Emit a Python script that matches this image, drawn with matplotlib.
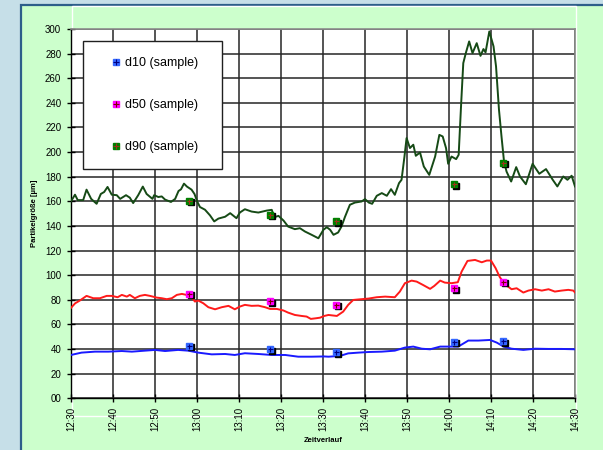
import matplotlib
matplotlib.use('Agg')
import matplotlib.pyplot as plt
import matplotlib.transforms as mtransforms
from matplotlib.patches import Rectangle
from matplotlib.lines import Line2D
from matplotlib.legend_handler import HandlerTuple

plt.rcParams['font.family'] = ['Liberation Sans', 'DejaVu Sans']

# ---------------- data ----------------
x_ticklabels = ["12:30", "12:40", "12:50", "13:00", "13:10", "13:20", "13:30",
                "13:40", "13:50", "14:00", "14:10", "14:20", "14:30"]
y_ticks = list(range(0, 301, 20))

# minutes after 12:30
d90_t = [0, 0.95, 1.6, 2.9, 3.7, 4.8, 6.1, 7.1, 7.9, 8.7, 9.7, 10.9, 11.7, 13.1, 14.0,
         14.8, 16.0, 17.1, 18.0, 19.4, 19.8, 20.8, 21.6, 22.4, 23.8, 24.8, 25.6, 26.2,
         26.9, 27.6, 28.7, 29.4, 30.1, 30.7, 31.9, 33.1, 34.1, 35.1, 36.7, 37.9, 39.4,
         40.2, 41.4, 43.0, 44.6, 46.6, 47.8, 48.4, 49.4, 50.6, 51.7, 53.3, 54.5, 55.7,
         57.3, 58.9, 60.1, 60.9, 61.7, 62.5, 63.6, 64.4, 65.2, 66.4, 67.6, 69.2, 70.0,
         70.9, 71.7, 72.8, 74.0, 75.2, 76.2, 77.1, 78.1, 78.7, 79.4, 79.9, 80.7, 81.5,
         82.1, 83.1, 84.0, 85.3, 86.7, 87.7, 88.5, 89.3, 89.8, 90.6, 91.7, 92.3, 92.9,
         93.4, 94.0, 94.8, 95.6, 96.6, 97.5, 98.2, 98.7, 99.6, 100.6, 101.2, 101.9,
         102.5, 103.1, 103.7, 104.8, 106.0, 106.9, 108.3, 109.9, 111.5, 113.1, 114.7,
         115.8, 117.2, 118.2, 119.2, 120.0]
d90_v = [160, 165.4, 161, 161, 169.5, 162, 158, 166, 167.6, 171.7, 165.4, 165, 162, 165,
         163, 158.6, 165, 172, 166, 162, 165, 163.5, 164, 161.4, 159.5, 162, 168.4,
         169.8, 174.4, 172, 169.5, 166, 159.5, 155.4, 153.2, 148.6, 143.7, 146, 147.5,
         150.4, 146.3, 150.9, 153.6, 151.7, 150.9, 152.5, 153.1, 147.1, 148.2, 144.4,
         139.5, 137.4, 138.2, 135.5, 132.8, 130, 136.9, 139, 136.9, 132.8, 134.7, 139.5,
         147.1, 157.2, 159, 159.9, 161.8, 159, 158, 164.5, 166.7, 164.5, 169.9, 165.3,
         174.8, 177.5, 196.5, 211.4, 203.3, 206, 197, 199.7, 188.3, 181.5, 196.4, 214,
         212.7, 203.2, 190.5, 196.4, 194.3, 197.8, 239.8, 272.3, 280.4, 289.9, 280.4,
         288.5, 278.2, 283.7, 281, 298, 285.9, 269.6, 234.4, 212.7, 192.4, 184.2, 176.1,
         187.8, 180.2, 173.9, 190.5, 182.4, 186.2, 177.5, 172.1, 180.2, 177.5, 180.8,
         172.1]

d50_t = [0, 1.0, 2.1, 3.7, 5.3, 6.9, 8.5, 9.7, 11.1, 12.1, 13.3, 14.0, 15.2, 16.4, 17.6,
         18.8, 20.4, 21.6, 22.8, 24.0, 25.2, 26.4, 27.5, 28.7, 29.5, 30.3, 31.5, 32.7,
         34.3, 35.9, 37.5, 39.0, 40.2, 41.4, 43.0, 44.6, 46.2, 47.4, 49.0, 50.6, 51.7,
         53.3, 54.9, 56.1, 57.1, 58.3, 59.3, 60.3, 61.3, 63.3, 64.8, 66.0, 67.2, 68.8,
         70.8, 72.8, 74.8, 77.1, 78.3, 79.5, 81.1, 82.3, 83.8, 85.5, 86.5, 87.9, 89.0,
         90.6, 92.1, 93.0, 94.4, 96.2, 97.8, 99.0, 100.0, 101.1, 102.1, 103.3, 104.9,
         106.1, 107.7, 108.9, 110.5, 112.1, 113.7, 115.2, 116.8, 118.4, 119.6, 120.0]
d50_v = [73.5, 77.2, 79.4, 83.2, 81.3, 81.3, 83.2, 83.2, 82.1, 84, 82.6, 84, 81.3, 83.2,
         84, 83.2, 81.8, 81.3, 80.5, 81.3, 84, 84.8, 84, 82.1, 78.6, 79.4, 77.2, 74, 72.3,
         74, 75.1, 72.3, 74.5, 75.9, 75.1, 75.3, 74, 72.6, 72.6, 71.3, 69.6, 67.7, 66.9,
         66.4, 64.5, 65, 65.5, 66.9, 67.7, 66.9, 70.4, 75.9, 79.9, 80.4, 81, 82.1, 82.6,
         82.1, 86.7, 93.5, 95.6, 94.8, 92.1, 88.9, 91.3, 95.6, 94, 93.5, 94.3, 102.9,
         111.6, 112.4, 110.5, 111.9, 111.9, 105.7, 98.4, 92.7, 88.6, 89.4, 85.9, 87.5,
         88.6, 87.5, 88.6, 86.7, 87.5, 88.1, 87.5, 86]

d10_t = [0, 2.5, 5.7, 8.9, 12.1, 14.5, 17.6, 20.0, 22.4, 25.5, 27.9, 30.3, 33.5, 36.7,
         39.0, 41.4, 44.6, 47.8, 51.0, 54.1, 57.3, 60.3, 61.3, 64.0, 66.0, 68.4, 70.8,
         74.0, 77.1, 79.5, 81.5, 83.5, 85.5, 87.9, 89.9, 92.2, 94.6, 97.0, 99.8, 101.4,
         103.0, 104.9, 107.7, 110.5, 113.7, 116.8, 120.0]
d10_v = [35.2, 37.1, 37.9, 37.9, 38.4, 37.9, 38.7, 39.3, 38.4, 39.3, 38.7, 37.1, 35.7, 36,
         35.2, 36.6, 36, 35.2, 35.2, 33.8, 33.8, 34, 33.8, 34.4, 36.5, 37.1, 37.6, 37.9,
         38.7, 41.2, 42, 40.3, 39.8, 42, 42, 42, 46.9, 46.9, 47.4, 45.2, 42, 40.3, 39.3,
         40.3, 40.1, 40.1, 39.8]

sample_t = [28.1, 47.4, 63.2, 91.2, 102.9]
d10_sample = [42.5, 40, 37.5, 46, 46.5]
d50_sample = [85, 79, 76, 89.5, 94.5]
d90_sample = [160.5, 149, 144, 174, 191.5]

# ---------------- figure ----------------
W, H = 603, 450
fig = plt.figure(figsize=(W / 100, H / 100), dpi=100, facecolor='#c6dfe8')


def fx(px):
    return px / W


def fy(py):
    return 1 - py / H


# green chart panel with dark blue border
fig.patches.append(Rectangle((fx(20.5), fy(460)), fx(600), fy(4.5) - fy(460),
                             transform=fig.transFigure, facecolor='#ccffcc',
                             edgecolor='#2d5e8a', linewidth=1.6, zorder=-3))
# thin white frame of the plot area
fig.patches.append(Rectangle((fx(72), fy(416)), fx(576) - fx(72), fy(6) - fy(416),
                             transform=fig.transFigure, facecolor='none',
                             edgecolor='white', linewidth=1.0, zorder=-2))

ax = fig.add_axes([fx(71), fy(398.3), fx(575) - fx(71), fy(29) - fy(398.3)])
ax.set_zorder(1)
ax.set_facecolor('white')
ax.set_xlim(0, 120)
ax.set_ylim(0, 300)

x_ticks = [10 * i for i in range(len(x_ticklabels))]
ax.set_xticks(x_ticks)
ax.set_xticklabels(x_ticklabels, rotation=90, fontsize=7)
ax.set_yticks(y_ticks)
ax.set_yticklabels(['%02d' % v for v in y_ticks], fontsize=7)
ax.tick_params(axis='both', direction='inout', length=6, width=1, colors='black')
ax.tick_params(axis='y', pad=4)
ax.tick_params(axis='x', pad=3)

ax.grid(True, color='#262626', linewidth=1.1, zorder=0)
ax.set_axisbelow(True)
for s in ['top', 'right']:
    ax.spines[s].set_color('#8c8c8c')
    ax.spines[s].set_linewidth(1.2)
for s in ['left', 'bottom']:
    ax.spines[s].set_color('black')
    ax.spines[s].set_linewidth(1.0)

ax.plot(d90_t, d90_v, color='#164a16', lw=1.4, zorder=3)
ax.plot(d50_t, d50_v, color='#ff1a1a', lw=1.4, zorder=3)
ax.plot(d10_t, d10_v, color='#1a1aff', lw=1.4, zorder=3)

shadow = mtransforms.offset_copy(ax.transData, fig=fig, x=1.5, y=-1.5, units='dots')
series = [(d10_sample, '#3366ff', '#000080'),
          (d50_sample, '#ff00ff', '#800000'),
          (d90_sample, '#008000', '#a0301a')]
for vals, fc, pc in series:
    ax.plot(sample_t, vals, ls='none', marker='s', ms=4.8, mfc='black', mec='black',
            transform=shadow, zorder=4)
    ax.plot(sample_t, vals, ls='none', marker='s', ms=4.8, mfc=fc, mec=fc, zorder=5)
    ax.plot(sample_t, vals, ls='none', marker='+', ms=3.6, mew=0.8, color=pc, zorder=6)

handles = []
labels = ['d10 (sample)', 'd50 (sample)', 'd90 (sample)']
for vals, fc, pc in series:
    sq = Line2D([], [], ls='none', marker='s', ms=5, mfc=fc, mec=fc)
    pl = Line2D([], [], ls='none', marker='+', ms=4, mew=0.8, color=pc)
    handles.append((sq, pl))

ax_w = 575 - 71
ax_h = 398.3 - 29
x0 = (83 - 71) / ax_w
wl = 139 / ax_w
ytop = (398.3 - 40.7) / ax_h
leg = ax.legend(handles, labels, handler_map={tuple: HandlerTuple(ndivide=1)},
                loc='upper left', bbox_to_anchor=(x0, ytop - 0.4, wl, 0.4),
                mode='expand', borderaxespad=0, fontsize=9, frameon=True,
                fancybox=False, borderpad=1.3, labelspacing=2.4,
                handlelength=2.75, handletextpad=-0.7, framealpha=1)
leg.get_frame().set_edgecolor('#202020')
leg.get_frame().set_linewidth(1.0)
leg.set_zorder(10)

fig.text(fx(35), fy(213.7), 'Partikelgröße [µm]', rotation=90, fontsize=5.5,
         fontweight='bold', ha='center', va='center')
fig.text(fx(323), fy(440), 'Zeitverlauf', fontsize=5.5, fontweight='bold',
         ha='center', va='center')

fig.savefig('out.png', dpi=100, facecolor=fig.get_facecolor())
